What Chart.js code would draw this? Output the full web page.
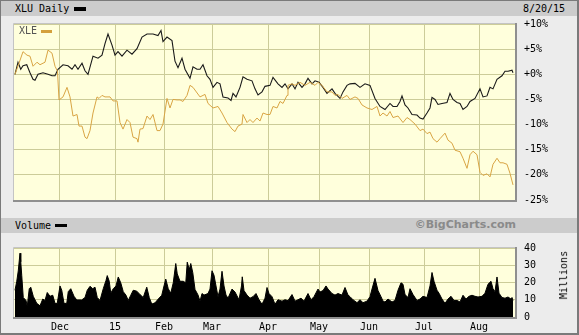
<!DOCTYPE html>
<html>
<head>
<meta charset="utf-8">
<script src="https://cdn.jsdelivr.net/npm/chart.js@4.4.1/dist/chart.umd.min.js"></script>
<style>
  html, body { margin:0; padding:0; background:#ececec; }
  #wrap { position:relative; width:579px; height:335px; background:#ececec; overflow:hidden;
          font-family:'DejaVu Sans Mono', monospace; font-size:10px; color:#000; }
  #frame { position:absolute; left:0; top:0; width:579px; height:335px; box-sizing:border-box;
           border:1px solid #7a7a7a; border-right-width:2px; border-bottom-width:2px; pointer-events:none; z-index:5; }
  .band { position:absolute; left:0; width:579px; background:#cccccc; }
  .t { position:absolute; white-space:nowrap; line-height:12px; }
  .sw { position:absolute; }
  canvas { position:absolute; left:0; }
</style>
</head>
<body>
<div id="wrap">
  <div class="band" style="top:0;height:16px"></div>
  <div class="band" style="top:218px;height:15px"></div>
  <div class="t" style="left:15px;top:3px">XLU Daily</div>
  <div class="sw" style="left:74px;top:7px;width:12px;height:4px;background:#000"></div>
  <div class="t" style="left:523px;top:3px">8/20/15</div>
  <div class="t" style="left:15px;top:220px">Volume</div>
  <div class="sw" style="left:55px;top:224px;width:12px;height:3px;background:#000"></div>
  <div class="t" style="right:63px;top:219px;font-family:'DejaVu Sans',sans-serif;font-weight:bold;font-size:11px;color:#8a8a8a">©BigCharts.com</div>
  <canvas id="main" width="579" height="215" style="top:0"></canvas>
  <canvas id="vol" width="579" height="102" style="top:233px"></canvas>
  <div class="t" style="left:19px;top:25px;color:#555;z-index:3">XLE</div>
  <div class="sw" style="left:41px;top:30px;width:11px;height:3px;background:#d4a03c;z-index:3"></div>
  <div class="t" style="left:540px;top:269px;transform:rotate(-90deg);transform-origin:center;">Millions</div>
  <div id="frame"></div>
</div>
<script>
// ---- data (x = trading-day index from the chart's first day) ----
const xluDays = [0.4,1.6,2.7,3.6,5.1,6.4,7.6,8.4,9.6,11.6,
  13.6,15.2,16.4,17.6,19.6,21.6,23.2,24.4,25.6,27.2,
  28.4,29.6,31.6,33.6,35.2,36.4,37.6,39.2,40.4,41.6,
  43.2,45.2,47.2,49.2,51.2,53.2,55.6,57.6,58.8,59.6,
  61.2,63.2,64.4,65.6,67.2,68.4,70.4,71.6,73.2,74.4,
  75.6,77.2,78.4,79.6,81.2,82.4,83.6,85.6,86.8,87.6,
  88.8,90.4,91.6,93.2,95.2,96.4,97.6,99.2,100.4,102.4,
  103.6,105.6,107.2,108.4,109.6,111.2,112.4,113.6,115.2,116.4,
  117.6,119.2,120.4,122.0,123.6,125.2,127.2,128.4,130.4,131.6,
  133.2,134.4,136.4,138.4,140.4,142.4,144.4,146.4,148.4,150.4,
  151.6,153.2,154.4,155.2,156.4,157.6,159.2,161.2,162.4,163.6,
  165.2,166.4,167.2,168.4,169.6,171.2,173.2,174.4,175.6,177.2,
  178.4,179.6,181.2,182.4,184.4,186.4,187.6,189.2,190.4,191.6,
  193.2,195.2,196.4,197.6,199.2,199.6];
const xluPct = [0,2.4,1.0,1.7,1.9,0.3,-1.0,-1.2,0,0.3,
  0,-0.3,-0.3,1.0,1.9,1.7,1.0,1.9,1.0,2.2,
  0.7,0,3.6,3.2,3.8,6.1,8.0,5.8,3.8,4.5,
  3.6,4.8,4.0,5.1,7.4,8.0,8.0,7.7,8.7,6.5,
  7.4,6.7,2.6,1.3,3.2,1.0,-0.8,1.5,1.0,1.0,
  1.9,-0.3,-1.0,-2.6,-1.6,-1.9,-4.5,-4.7,-5.2,-3.8,
  -4.5,-2.6,-0.5,-1.0,-1.3,-2.9,-4.1,-3.5,-2.4,-2.2,
  -0.6,-1.9,-2.6,-1.9,-2.9,-1.9,-2.9,-1.6,-2.6,-1.9,
  -0.8,-1.9,-1.3,-1.6,-2.6,-3.8,-2.9,-3.8,-4.8,-3.5,
  -2.2,-1.9,-1.8,-2.6,-1.9,-2.2,-4.8,-6.4,-7.0,-5.8,
  -6.4,-6.4,-5.4,-4.3,-6.1,-6.7,-8.0,-8.1,-8.7,-8.9,
  -7.7,-6.7,-4.6,-5.0,-6.0,-5.8,-5.6,-3.8,-5.0,-5.6,
  -5.8,-7.0,-6.4,-5.4,-4.8,-2.9,-4.5,-4.3,-2.6,-2.9,
  -1.0,-0.3,0.6,0.6,0.8,0.3];

const xleDays = [0.4,2.0,3.6,5.2,6.4,7.6,9.2,10.4,12.4,13.6,
  15.2,16.4,17.4,18.0,19.6,21.2,22.4,23.6,25.2,26.0,
  27.2,28.4,29.2,30.4,31.6,33.2,34.0,35.2,36.4,38.4,
  39.6,41.2,42.4,43.6,45.2,46.4,47.6,49.2,49.6,50.4,
  51.6,53.2,54.4,55.6,57.2,58.4,59.6,61.2,62.4,63.6,
  65.2,66.4,67.6,69.2,70.4,71.6,74.4,76.4,77.6,79.6,
  81.6,83.2,85.2,87.2,88.4,89.6,91.2,91.6,93.2,94.4,
  95.6,97.2,98.4,99.6,101.2,102.4,103.6,105.2,106.4,107.6,
  109.2,109.6,111.2,112.4,114.4,116.4,118.4,120.4,121.6,123.2,
  125.2,127.2,128.4,129.6,131.2,133.2,134.4,136.4,137.6,139.2,
  141.2,143.2,145.2,146.4,147.6,149.2,150.4,151.6,153.6,155.6,
  157.2,158.4,160.4,162.4,163.6,165.2,166.4,167.6,169.2,170.4,
  172.4,173.6,175.2,176.4,178.4,179.6,181.2,182.4,183.6,185.2,
  186.4,187.6,189.2,190.4,191.6,193.2,194.4,195.6,197.2,198.4,
  199.6];
const xlePct = [0,2.2,4.5,3.8,3.6,1.6,2.4,1.9,2.4,4.8,
  4.2,1.6,0.6,-5.1,-4.5,-2.6,-4.5,-8.3,-8.0,-10.3,
  -10.3,-12.5,-12.8,-11.2,-7.7,-4.5,-4.8,-4.2,-4.5,-4.5,
  -5.3,-5.3,-9.6,-10.9,-9.0,-9.6,-12.5,-12.8,-13.5,-10.9,
  -10.8,-8.3,-9.0,-8.0,-11.2,-11.2,-9.9,-4.8,-6.7,-5.0,
  -5.1,-5.1,-5.4,-4.2,-2.2,-2.6,-4.5,-4.0,-5.8,-6.7,
  -6.4,-7.7,-9.6,-10.9,-11.4,-10.3,-9.9,-8.0,-9.6,-9.0,
  -9.6,-8.7,-9.3,-7.7,-8.0,-8.0,-6.4,-6.7,-5.4,-5.8,
  -4.2,-2.2,-1.9,-2.2,-1.6,-2.2,-1.6,-2.2,-1.6,-2.2,
  -3.5,-3.5,-4.2,-4.0,-4.8,-4.2,-5.0,-4.5,-4.8,-6.1,
  -6.7,-7.0,-6.4,-8.3,-7.7,-8.3,-7.4,-8.6,-8.3,-9.6,
  -8.6,-9.0,-9.9,-11.2,-10.9,-11.8,-11.5,-12.8,-13.5,-12.8,
  -11.7,-13.1,-13.7,-15.1,-15.4,-16.7,-18.7,-16.0,-15.3,-16.0,
  -19.5,-20.1,-19.8,-20.4,-17.9,-16.7,-17.6,-17.6,-17.9,-19.7,
  -22.0];

const volDays = [0.4,1.1,1.7,2.4,2.7,3.1,3.7,4.8,5.3,6.1,
  6.7,7.7,9.1,10.4,11.5,12.4,13.3,14.4,15.5,16.4,
  17.3,18.4,19.1,20.0,21.1,21.7,22.7,24.0,25.1,27.1,
  28.4,29.3,30.4,31.5,32.4,33.3,34.4,35.7,36.8,37.3,
  38.1,38.7,39.7,40.8,41.7,42.7,43.7,44.8,45.7,46.7,
  47.7,49.1,50.4,51.7,53.1,54.1,55.1,56.4,57.7,59.1,
  60.0,60.7,61.7,62.7,63.7,64.7,65.3,66.4,67.7,68.7,
  69.3,70.1,70.7,71.5,72.4,73.6,74.4,75.2,76.0,77.6,
  78.4,79.2,80.0,80.8,81.6,82.4,83.2,84.0,84.8,85.6,
  87.2,88.4,90.0,91.0,91.3,92.0,93.2,94.4,95.6,96.8,
  98.0,99.2,100.4,101.2,102.0,103.2,104.4,105.6,107.2,108.4,
  109.6,111.2,112.4,113.6,114.8,116.0,117.6,118.8,120.0,121.6,
  122.4,123.6,124.8,125.6,127.2,128.4,129.6,131.2,132.4,133.6,
  134.4,135.6,137.2,138.4,139.6,141.2,142.4,143.2,144.4,145.6,
  146.8,147.6,148.4,149.6,151.2,152.4,153.6,154.8,155.6,156.4,
  157.6,158.4,159.6,160.4,161.2,162.4,163.6,165.2,166.4,167.2,
  168.0,169.2,170.0,171.2,172.4,173.6,174.8,176.0,177.2,178.4,
  179.6,180.8,182.0,183.2,184.4,185.6,187.2,188.4,189.6,190.8,
  191.6,192.4,193.2,194.0,195.2,196.4,197.6,198.8,199.2,199.6];
const volMillions = [15.5,20.7,26.7,37,32,24,11.3,9.6,6.2,16.4,
  17.3,12,7.9,6.5,10.4,9.6,14.2,12,12.6,7.9,
  7.9,18,15.5,7.9,7.9,14.7,16.4,12,9.9,9.9,
  11.3,15.5,17.8,16.4,17.3,11.3,9.6,16.4,21.2,24,
  20.7,13.8,16.4,18,23.2,19.8,14.7,12.6,9.6,12.6,
  15.5,15,13,11.3,17.3,11.3,7.5,8.2,10.4,12.6,
  18,22,16.4,13.8,19.8,31,25,20.7,20.7,19.8,
  31.8,27.5,31,25.8,16,12.8,9.2,13.6,12.7,13.6,
  16.2,26.8,24.2,18,11.8,16.2,26.5,18,12.7,10.9,
  16.2,14.5,10,18,23.3,15.3,12.7,10.9,11.8,13.6,
  10,7.4,10.9,17.1,13.6,11.8,7.4,10,9.2,10,
  9.5,13,9.2,10,10.9,9.2,13.6,10,11.8,16.2,
  14.5,15.3,18,16.2,13.6,12.7,13.6,12.7,17.1,12.7,
  11.8,10,8.3,10,8.3,9.2,11.8,16.2,22.4,15.3,
  11.8,9.2,8.7,10.4,8.7,9.6,15.5,19.8,19,13,
  11.3,16.4,13,11.3,9.6,10.4,12,11.3,18,25.8,
  20.7,15.5,13.8,10.4,7.9,10.4,12,9.6,9.6,8.7,
  12.6,10.4,12,12.6,12,11.6,12,13.8,19,20.7,
  16.4,14.7,23.2,13.8,11.3,10.9,11.6,10.4,11.3,9.6];

const monthTicks  = [18.4, 40.4, 60, 79.2, 101.6, 122, 142, 164, 186];
const monthLabels = ["Dec", "15", "Feb", "Mar", "Apr", "May", "Jun", "Jul", "Aug"];
const pctTicks  = [10, 5, 0, -5, -10, -15, -20, -25];
const pctLabels = ["+10%", "+5%", "+0%", "-5%", "-10%", "-15%", "-20%", "-25%"];
const volTicks  = [40, 30, 20, 10, 0];
const volLabels = ["40", "30", "20", "10", "0"];

// ---- styling ----
Chart.defaults.font.family = "'DejaVu Sans Mono', monospace";
Chart.defaults.font.size = 10;
Chart.defaults.color = '#000';
const GRID = '#cccc99';
const PLOT_BG = '#ffffdc';
const X_MIN = 0, X_MAX = 200.4;

const plotFrame = {
  id: 'plotFrame',
  beforeDraw(chart) {
    const { ctx, chartArea: a } = chart;
    ctx.save();
    ctx.fillStyle = PLOT_BG;
    ctx.fillRect(a.left, a.top - 1, a.right - a.left, a.bottom - a.top + 1);
    ctx.restore();
  },
  afterDraw(chart) {
    const { ctx, chartArea: a } = chart;
    ctx.save();
    ctx.strokeStyle = '#c4c4c4';
    ctx.lineWidth = 1;
    ctx.beginPath();
    ctx.moveTo(a.left - 0.5, a.bottom);
    ctx.lineTo(a.left - 0.5, a.top - 0.5);
    ctx.lineTo(a.right, a.top - 0.5);
    ctx.stroke();
    ctx.strokeStyle = '#8f8f8f';
    ctx.lineWidth = 2;
    ctx.beginPath();
    ctx.moveTo(a.left - 1, a.bottom + 1);
    ctx.lineTo(a.right + 1, a.bottom + 1);
    ctx.lineTo(a.right + 1, a.top - 1);
    ctx.stroke();
    ctx.restore();
  }
};

function xScale(showLabels, h) {
  return {
    type: 'linear', min: X_MIN, max: X_MAX,
    afterBuildTicks(s) { s.ticks = monthTicks.map(v => ({ value: v })); },
    afterFit(s) { s.height = h; },
    grid: { color: GRID, lineWidth: 1, drawTicks: false },
    border: { display: false },
    ticks: { display: showLabels, padding: 4, maxRotation: 0, autoSkip: false,
             callback: (v, i) => monthLabels[i] }
  };
}

new Chart(document.getElementById('main'), {
  type: 'line',
  data: {
    datasets: [
      { label: 'XLE', data: xleDays.map((d, i) => ({ x: d, y: xlePct[i] })),
        borderColor: '#d9a544', borderWidth: 1, pointRadius: 0, tension: 0, fill: false },
      { label: 'XLU', data: xluDays.map((d, i) => ({ x: d, y: xluPct[i] })),
        borderColor: '#1a1a1a', borderWidth: 1.1, pointRadius: 0, tension: 0, fill: false }
    ]
  },
  options: {
    responsive: false, animation: false,
    layout: { padding: { left: 14, top: 24, right: 0, bottom: 7 } },
    plugins: { legend: { display: false }, tooltip: { enabled: false } },
    scales: {
      x: xScale(false, 0),
      y: {
        position: 'right', min: -25, max: 10,
        afterBuildTicks(s) { s.ticks = pctTicks.map(v => ({ value: v })); },
        afterFit(s) { s.width = 64; },
        grid: { color: GRID, lineWidth: 1, drawTicks: false },
        border: { display: false },
        ticks: { padding: 9, callback: (v, i) => pctLabels[i] }
      }
    }
  },
  plugins: [plotFrame]
});

new Chart(document.getElementById('vol'), {
  type: 'line',
  data: {
    datasets: [
      { label: 'Volume', data: volDays.map((d, i) => ({ x: d, y: volMillions[i] })),
        borderColor: '#000', backgroundColor: '#000', borderWidth: 1, pointRadius: 0,
        tension: 0, fill: 'origin' }
    ]
  },
  options: {
    responsive: false, animation: false,
    layout: { padding: { left: 14, top: 6, right: 0, bottom: 0 } },
    plugins: { legend: { display: false }, tooltip: { enabled: false } },
    scales: {
      x: xScale(true, 18),
      y: {
        position: 'right', min: 0, max: 40,
        afterBuildTicks(s) { s.ticks = volTicks.map(v => ({ value: v })); },
        afterFit(s) { s.width = 64; },
        grid: { color: GRID, lineWidth: 1, drawTicks: false },
        border: { display: false },
        ticks: { padding: 9, callback: (v, i) => volLabels[i] }
      }
    }
  },
  plugins: [plotFrame]
});
</script>
</body>
</html>
